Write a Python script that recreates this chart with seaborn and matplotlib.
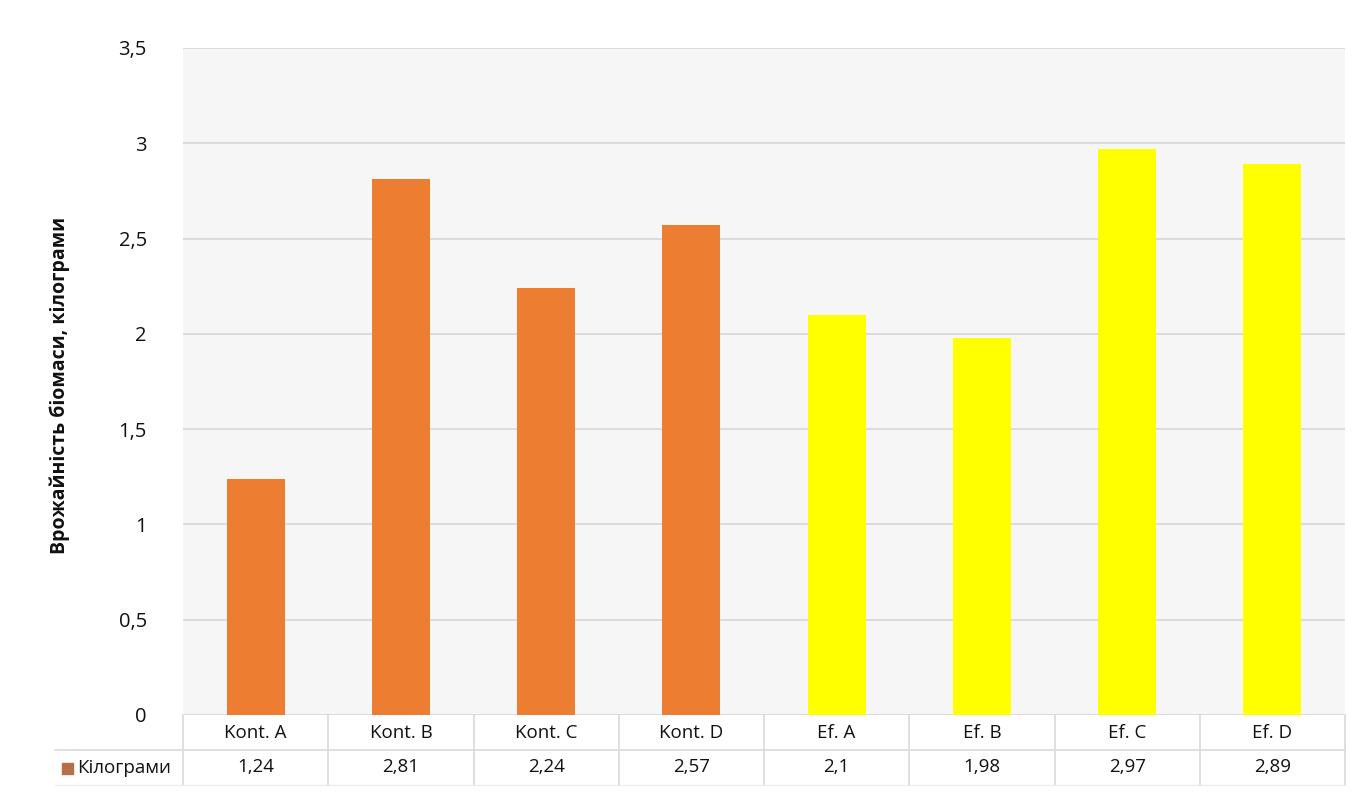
import matplotlib
matplotlib.use("Agg")
import matplotlib.pyplot as plt
import matplotlib.transforms as mtransforms
from matplotlib.ticker import FuncFormatter, MultipleLocator
import seaborn as sns
import pandas as pd

# Biomass yield per plot, kilograms
categories = ["Kont. A", "Kont. B", "Kont. C", "Kont. D", "Ef. A", "Ef. B", "Ef. C", "Ef. D"]
values = [1.24, 2.81, 2.24, 2.57, 2.1, 1.98, 2.97, 2.89]
value_labels = ["1,24", "2,81", "2,24", "2,57", "2,1", "1,98", "2,97", "2,89"]
bar_colors = ["#ED7D31"] * 4 + ["#FFFF00"] * 4
series_name = "Кілограми"
y_title = "Врожайність біомаси, кілограми"

sns.set_theme(style="white")
plt.rcParams["font.family"] = ["Open Sans", "DejaVu Sans"]

W, H = 1368, 793
fig = plt.figure(figsize=(W / 100, H / 100), dpi=100)
fig.patch.set_facecolor("white")

left, right, top, bottom = 183, 1345, 48, 715
ax = fig.add_axes([left / W, 1 - bottom / H, (right - left) / W, (bottom - top) / H])
ax.set_facecolor("#f6f6f6")

df = pd.DataFrame({"cat": categories, "val": values})
sns.barplot(data=df, x="cat", y="val", hue="cat", palette=bar_colors,
            width=0.4, legend=False, ax=ax, saturation=1, edgecolor="none")

ax.set_ylim(0, 3.5)
ax.set_xlim(-0.5, len(categories) - 0.5)
ax.yaxis.set_major_locator(MultipleLocator(0.5))
ax.yaxis.set_major_formatter(FuncFormatter(lambda v, p: f"{v:g}".replace(".", ",")))
ax.tick_params(axis="y", length=0, pad=26, labelsize=14.5, labelcolor="#111111")
ax.set_xticks([])
ax.set_xlabel("")
ax.set_ylabel("")
ax.grid(axis="y", color="#d6d6d6", linewidth=1.2)
ax.set_axisbelow(True)
for s in ax.spines.values():
    s.set_visible(False)

# Data table beneath the plot
trans = mtransforms.blended_transform_factory(ax.transData, ax.transAxes)
ph = bottom - top
row1 = -(750 - bottom) / ph
row2 = -(785 - bottom) / ph
key_left = -(left - 55) / ((right - left) / len(categories)) - 0.5
line_kw = dict(color="#d9d9d9", linewidth=1.2, clip_on=False)
for i in range(len(categories) + 1):
    ax.plot([i - 0.5, i - 0.5], [0, row2], transform=trans, **line_kw)
ax.plot([key_left, len(categories) - 0.5], [row1, row1], transform=trans, **line_kw)
ax.plot([key_left, len(categories) - 0.5], [row2, row2], transform=trans,
        color="#ececec", linewidth=1.0, clip_on=False)

for i, (c, lab) in enumerate(zip(categories, value_labels)):
    ax.text(i, row1 / 2, c, transform=trans, ha="center", va="center",
            fontsize=13.5, color="#111111")
    ax.text(i, (row1 + row2) / 2, lab, transform=trans, ha="center", va="center",
            fontsize=13.5, color="#111111")

# Series key in the table's first column
fig.patches.append(plt.Rectangle((62 / W, 1 - 774 / H), 11 / W, 11 / H,
                                 transform=fig.transFigure, color="#b5704a"))
fig.text(77 / W, 1 - 768 / H, series_name, ha="left", va="center",
         fontsize=13.5, color="#111111")

fig.text(60 / W, 1 - 385 / H, y_title, rotation=90, ha="center", va="center",
         fontsize=14, fontweight="bold", color="#111111")

fig.savefig("out.png", dpi=100, facecolor="white")
